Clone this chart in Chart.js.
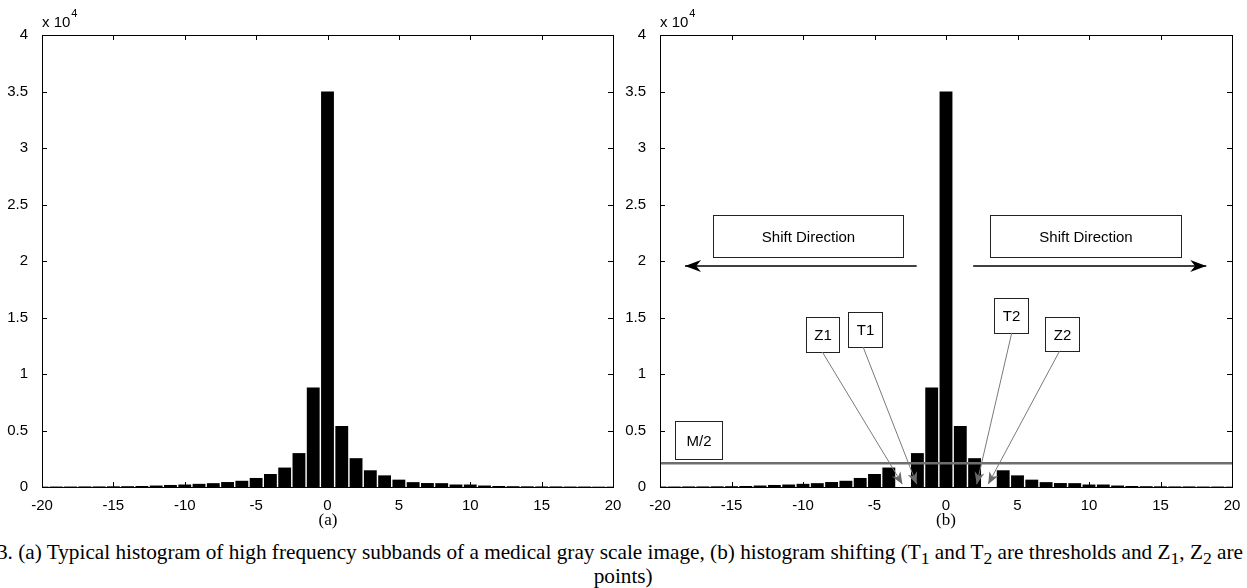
<!DOCTYPE html>
<html>
<head>
<meta charset="utf-8">
<script src="https://cdn.jsdelivr.net/npm/chart.js@4.4.0/dist/chart.umd.min.js"></script>
<style>
  body { margin: 0; background: #fff; width: 1247px; height: 588px; overflow: hidden; position: relative; font-family: 'Liberation Serif', 'Times New Roman', serif; }
  canvas { position: absolute; top: 0; }
  #hist-a { left: 0; }
  #hist-b { left: 615px; }
  .sub { position: absolute; top: 510px; font-size: 17px; transform: translateX(-50%); }
  #caption1 { position: absolute; left: -3px; top: 540px; font-size: 21px; white-space: nowrap; transform-origin: 0 0; }
  #caption2 { position: absolute; left: 0; top: 564px; width: 1247px; text-align: center; font-size: 21px; }
  #caption2 span { display: inline-block; }
</style>
</head>
<body>
<canvas id="hist-a" width="630" height="540"></canvas>
<canvas id="hist-b" width="632" height="540"></canvas>
<div class="sub" style="left:328px">(a)</div>
<div class="sub" style="left:946px">(b)</div>
<div id="caption1">3. (a) Typical histogram of high frequency subbands of a medical gray scale image, (b) histogram shifting (T<sub>1</sub> and T<sub>2</sub> are thresholds and Z<sub>1</sub>, Z<sub>2</sub> are</div>
<div id="caption2"><span id="cap2span">points)</span></div>

<script>
/* Histogram data: coefficient value bins and counts */
let bins = [-20, -19, -18, -17, -16, -15, -14, -13, -12, -11, -10, -9, -8, -7, -6, -5, -4, -3, -2, -1,
            0, 1, 2, 3, 4, 5, 6, 7, 8, 9, 10, 11, 12, 13, 14, 15, 16, 17, 18, 19, 20]

// (a) original histogram
let countsA = [30, 40, 40, 50, 50, 60, 70, 90, 130, 180, 220, 280, 340, 440, 550, 800, 1150, 1720, 3000, 8800,
               35000, 5400, 2550, 1480, 1030, 650, 430, 350, 340, 220, 220, 130, 90, 70, 60, 50, 50, 40, 40, 30, 30]

// (b) shifted histogram, bins -3 and 3 emptied
let countsB = [40, 40, 50, 50, 60, 70, 90, 130, 180, 220, 280, 340, 440, 550, 800, 1150, 1720, 0, 3000, 8800,
               35000, 5400, 2550, 0, 1480, 1030, 650, 430, 350, 340, 220, 220, 130, 90, 70, 60, 50, 50, 40, 40, 30]

// M/2 level drawn across panel (b)
let halfLevel = 2100

let xTicks = [-20, -15, -10, -5, 0, 5, 10, 15, 20]
let yTicks = [0, 5000, 10000, 15000, 20000, 25000, 30000, 35000, 40000]

/* Annotations of panel (b), in data units */
let noteBoxes = [
    { text: 'Shift Direction', x0: -16.3, x1: -3.0, y0: 24100, y1: 20350 },
    { text: 'Shift Direction', x0: 3.1, x1: 16.4, y0: 24100, y1: 20350 },
    { text: 'M/2', x0: -18.95, x1: -15.65, y0: 5850, y1: 2500 },
    { text: 'Z1', x0: -9.8, x1: -7.5, y0: 15050, y1: 11950 },
    { text: 'T1', x0: -6.85, x1: -4.5, y0: 15500, y1: 12400 },
    { text: 'T2', x0: 3.35, x1: 5.7, y0: 16750, y1: 13650 },
    { text: 'Z2', x0: 6.9, x1: 9.3, y0: 15050, y1: 12050 }
]
let shiftArrows = [
    { x0: -2.05, x1: -18.25, y: 19550 },
    { x0: 1.9, x1: 18.2, y: 19550 }
]
let pointers = [
    { x0: -8.65, y0: 11950, x1: -3.05, y1: 250 },
    { x0: -5.8, y0: 12400, x1: -2.05, y1: 250 },
    { x0: 4.6, y0: 13650, x1: 2.15, y1: 250 },
    { x0: 7.95, y0: 12050, x1: 2.95, y1: 250 }
]

Chart.defaults.font.family = "'Liberation Sans', Arial, sans-serif"
Chart.defaults.font.size = 15
Chart.defaults.color = '#000'

// matlab style box with inward ticks and the x 10^4 exponent
let framePlugin = {
    id: 'frame',
    afterDatasetsDraw(chart) {
        let ctx = chart.ctx
        let a = chart.chartArea
        let x = chart.scales.x
        let y = chart.scales.y
        ctx.save()
        ctx.strokeStyle = '#000'
        ctx.lineWidth = 1
        ctx.strokeRect(Math.round(a.left) + 0.5, Math.round(a.top) + 0.5, Math.round(a.right - a.left), Math.round(a.bottom - a.top))
        ctx.beginPath()
        xTicks.forEach(function(v) {
            let px = Math.round(x.getPixelForValue(v)) + 0.5
            ctx.moveTo(px, a.bottom); ctx.lineTo(px, a.bottom - 5)
            ctx.moveTo(px, a.top); ctx.lineTo(px, a.top + 5)
        })
        yTicks.forEach(function(v) {
            let py = Math.round(y.getPixelForValue(v)) + 0.5
            ctx.moveTo(a.left, py); ctx.lineTo(a.left + 5, py)
            ctx.moveTo(a.right, py); ctx.lineTo(a.right - 5, py)
        })
        ctx.stroke()
        // exponent label
        ctx.fillStyle = '#000'
        ctx.textAlign = 'left'
        ctx.textBaseline = 'alphabetic'
        ctx.font = "15px 'Liberation Sans', Arial"
        ctx.fillText('x 10', a.left, a.top - 8)
        let w = ctx.measureText('x 10').width
        ctx.font = "11px 'Liberation Sans', Arial"
        ctx.fillText('4', a.left + w + 1, a.top - 18)
        ctx.restore()
    }
}

function arrowHead(ctx, fromX, fromY, tipX, tipY, len, half) {
    let ang = Math.atan2(tipY - fromY, tipX - fromX)
    let cos = Math.cos(ang), sin = Math.sin(ang)
    let bx = tipX - len * cos, by = tipY - len * sin
    let nx = tipX - len * 0.7 * cos, ny = tipY - len * 0.7 * sin
    ctx.beginPath()
    ctx.moveTo(tipX, tipY)
    ctx.lineTo(bx - half * sin, by + half * cos)
    ctx.lineTo(nx, ny)
    ctx.lineTo(bx + half * sin, by - half * cos)
    ctx.closePath()
    ctx.fill()
}

// text boxes and arrows of panel (b)
let notesPlugin = {
    id: 'notes',
    afterDatasetsDraw(chart) {
        let ctx = chart.ctx
        let X = v => chart.scales.x.getPixelForValue(v)
        let Y = v => chart.scales.y.getPixelForValue(v)
        ctx.save()
        ctx.lineWidth = 1
        ctx.strokeStyle = '#222'
        ctx.fillStyle = '#000'
        ctx.textAlign = 'center'
        ctx.textBaseline = 'middle'
        noteBoxes.forEach(function(b) {
            let x0 = Math.round(X(b.x0)) + 0.5, x1 = Math.round(X(b.x1)) + 0.5
            let y0 = Math.round(Y(b.y0)) + 0.5, y1 = Math.round(Y(b.y1)) + 0.5
            ctx.strokeRect(x0, y0, x1 - x0, y1 - y0)
            ctx.font = "15px 'Liberation Sans', Arial"
            ctx.fillText(b.text, (x0 + x1) / 2, (y0 + y1) / 2 + 1)
        })
        // black shift arrows
        ctx.strokeStyle = '#000'
        ctx.lineWidth = 1.5
        shiftArrows.forEach(function(s) {
            let x0 = X(s.x0), x1 = X(s.x1), yy = Y(s.y)
            ctx.beginPath()
            ctx.moveTo(x0, yy)
            ctx.lineTo(x1, yy)
            ctx.stroke()
            arrowHead(ctx, x0, yy, x1, yy, 16, 6)
        })
        // grey pointers
        ctx.strokeStyle = '#7a7a7a'
        ctx.fillStyle = '#6a6a6a'
        ctx.lineWidth = 1
        pointers.forEach(function(p) {
            let x0 = X(p.x0), y0 = Y(p.y0), x1 = X(p.x1), y1 = Y(p.y1)
            ctx.beginPath()
            ctx.moveTo(x0, y0)
            ctx.lineTo(x1, y1)
            ctx.stroke()
            arrowHead(ctx, x0, y0, x1, y1, 12, 5)
        })
        ctx.restore()
    }
}

function makeHistogram(canvasId, counts, extraDatasets, yWidth, padRight, plugins) {
    let ctx = document.querySelector(canvasId).getContext('2d')
    let datasets = [{
        type: 'bar',
        data: bins.map((b, i) => ({ x: b, y: counts[i] })),
        backgroundColor: '#000',
        borderWidth: 0,
        barPercentage: 0.9,
        categoryPercentage: 1,
        order: 1
    }].concat(extraDatasets)
    return new Chart(ctx, {
        type: 'bar',
        data: { datasets: datasets },
        options: {
            responsive: false,
            animation: false,
            devicePixelRatio: 1,
            layout: { padding: { top: 35, right: padRight, left: 0, bottom: 0 } },
            plugins: { legend: { display: false }, tooltip: { enabled: false } },
            scales: {
                x: {
                    type: 'linear', min: -20, max: 20, offset: false,
                    grid: { display: false }, border: { display: false },
                    ticks: { stepSize: 5, padding: 2, maxRotation: 0, autoSkip: false },
                    afterFit: s => { s.height = 53 }
                },
                y: {
                    type: 'linear', min: 0, max: 40000,
                    grid: { display: false }, border: { display: false },
                    ticks: { stepSize: 5000, padding: 6, callback: v => String(v / 10000) },
                    afterFit: s => { s.width = yWidth }
                }
            }
        },
        plugins: plugins
    })
}

let chartA = makeHistogram('#hist-a', countsA, [], 42, 17, [framePlugin])

let chartB = makeHistogram('#hist-b', countsB, [{
    type: 'line',
    data: [{ x: -20, y: halfLevel }, { x: 20, y: halfLevel }],
    borderColor: '#6e6e6e',
    borderWidth: 2.5,
    pointRadius: 0,
    order: 0
}], 45, 15, [framePlugin, notesPlugin])

// squeeze the caption like the condensed original
let cap1 = document.querySelector('#caption1')
let sx = 1246 / cap1.getBoundingClientRect().width
cap1.style.transform = 'scaleX(' + sx + ')'
document.querySelector('#cap2span').style.transform = 'scaleX(' + sx + ')'
</script>
</body>
</html>
